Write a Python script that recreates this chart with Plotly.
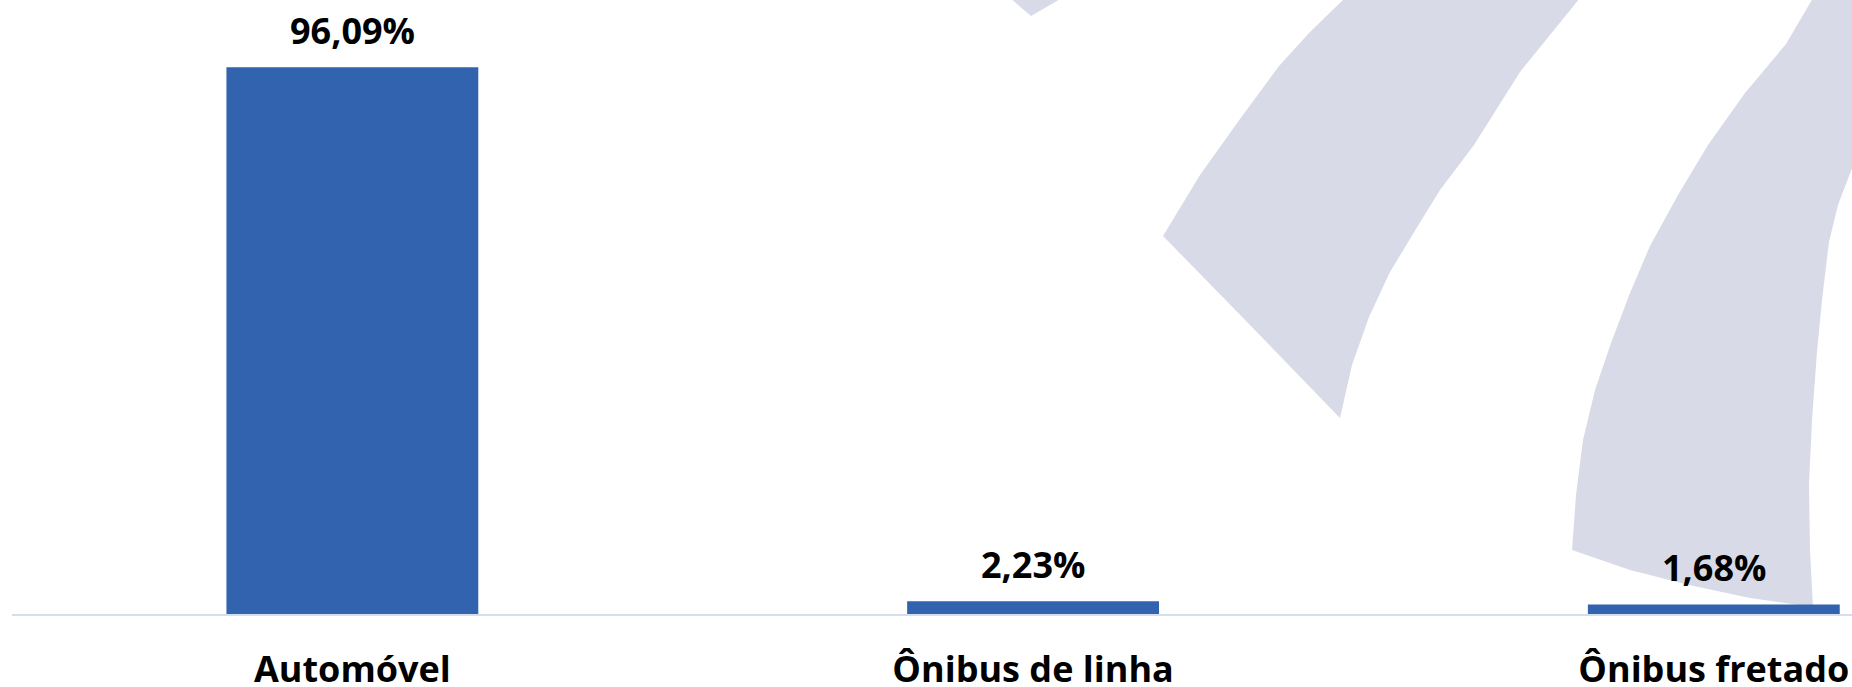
"""Distribuicao modal das viagens: barras com rotulos em percentual."""

import plotly.graph_objects as go

# Dados do grafico
categorias = ["Automóvel", "Ônibus de linha", "Ônibus fretado"]
percentuais = [96.09, 2.23, 1.68]

COR_BARRA = "#3263AE"
COR_MARCA = "#D8DBE7"
COR_EIXO = "#D5DDEE"
FONTE = "Open Sans"

W, H = 1852, 687
ML, MB = 12, 73
PW, PH = W - ML, H - MB


def px_path(pontos):
    """Converte pontos em pixels (da figura) para um path em coordenadas paper."""
    partes = []
    for i, (x, y) in enumerate(pontos):
        px = (x - ML) / PW
        py = (PH - y) / PH
        partes.append(("M" if i == 0 else "L") + f"{px:.5f},{py:.5f}")
    return " ".join(partes) + " Z"


# Marca d'agua ao fundo (faixas curvas do logotipo)
marcas = [
    [(1010, -2), (1031, 16), (1062, -2)],
    [(1163, 236), (1200, 175), (1240, 119), (1279, 66), (1310, 32), (1345, -2),
     (1580, -2), (1520, 72), (1474, 145), (1440, 190), (1416, 229), (1390, 272),
     (1369, 317), (1352, 365), (1340, 418), (1250, 325)],
    [(1572, 550), (1576, 495), (1583, 440), (1595, 390), (1611, 343), (1630, 293),
     (1650, 246), (1678, 195), (1708, 145), (1745, 93), (1786, 44), (1813, -2),
     (1854, -2), (1854, 163), (1838, 205), (1829, 242), (1822, 300), (1817, 352),
     (1812, 420), (1809, 484), (1810, 550), (1813, 607), (1750, 598), (1689, 585),
     (1630, 570)],
]

fig = go.Figure(go.Bar(
    x=categorias, y=percentuais, width=0.37,
    marker=dict(color=COR_BARRA, line=dict(width=0)),
    hovertemplate="%{x}: %{y:.2f}%<extra></extra>",
))

for cat, v in zip(categorias, percentuais):
    fig.add_annotation(
        x=cat, y=v, text=f"<b>{v:.2f}%</b>".replace(".", ","),
        showarrow=False, yanchor="bottom", yshift=10,
        font=dict(family=FONTE, size=36, color="#000000"),
    )

for pts in marcas:
    fig.add_shape(type="path", path=px_path(pts), xref="paper", yref="paper",
                  fillcolor=COR_MARCA, line=dict(width=0), layer="below")

fig.update_layout(
    width=W, height=H,
    margin=dict(l=ML, r=0, t=0, b=MB),
    paper_bgcolor="white", plot_bgcolor="white",
    showlegend=False, bargap=0.63,
)
fig.update_xaxes(
    range=[-0.5, 2.203], showgrid=False, zeroline=False,
    showline=True, linecolor=COR_EIXO, linewidth=2, automargin=False,
    ticks="", ticklabelstandoff=23,
    tickfont=dict(family=FONTE, size=36, color="#000000"),
    tickvals=categorias, ticktext=[f"<b>{c}</b>" for c in categorias],
)
fig.update_yaxes(range=[0, 107.9], visible=False, showgrid=False, automargin=False)

# sem a margem padrao do <body>, o grafico ocupa a janela a partir do canto
fig.write_html("out.html", config={"displayModeBar": False},
               post_script="document.body.style.margin = '0';")
